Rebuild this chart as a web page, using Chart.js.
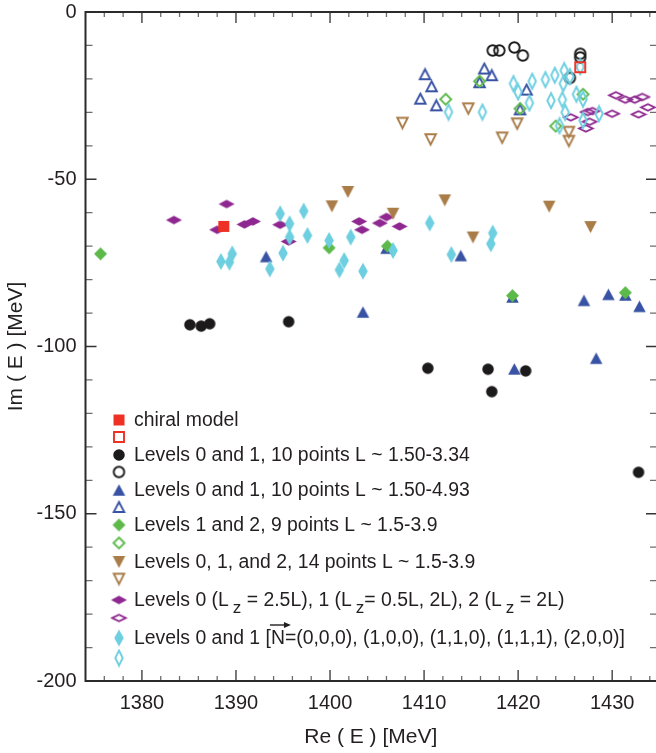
<!DOCTYPE html>
<html>
<head>
<meta charset="utf-8">
<script src="https://cdn.jsdelivr.net/npm/chart.js@4.4.1/dist/chart.umd.min.js"></script>
<style>
  html, body { margin: 0; padding: 0; background: #fff; }
  canvas { display: block; }
</style>
</head>
<body>
<canvas id="chart" width="656" height="753"></canvas>
<script>
// axis ranges and tick labels
const xMin = 1374.0;
const xMax = 1434.66;
const yMin = -200;
const yMax = 0;
const xTicks = [1380, 1390, 1400, 1410, 1420, 1430];
const yTicks = [0, -50, -100, -150, -200];

// [Re(E), Im(E)] in MeV
const chiralFilled = [[1388.7, -64.1]];
const chiralOpen = [[1426.6, -16.5]];

const circleFilled = [
  [1385.1, -93.5], [1386.3, -93.9], [1387.2, -93.2], [1395.6, -92.6],
  [1410.4, -106.5], [1416.8, -106.8], [1417.2, -113.5], [1420.8, -107.3],
  [1432.8, -137.6]
];
const circleOpen = [
  [1417.3, -11.5], [1418.0, -11.5], [1419.6, -10.6], [1420.5, -13.0],
  [1426.6, -12.5], [1426.6, -13.6], [1425.5, -19.7]
];

const triangleFilled = [
  [1393.2, -73.1], [1403.5, -89.7], [1406.0, -70.6], [1413.9, -72.8],
  [1419.4, -85.2], [1419.6, -106.7], [1427.0, -86.2], [1428.3, -103.5],
  [1429.6, -84.4], [1431.4, -84.6], [1432.9, -88.0]
];
const triangleOpen = [
  [1409.6, -25.9], [1410.1, -18.6], [1410.8, -22.2], [1411.3, -27.9],
  [1415.9, -21.0], [1416.4, -16.9], [1417.2, -18.9], [1420.2, -29.1],
  [1420.9, -23.2]
];

const greenFilled = [
  [1375.6, -72.3], [1399.9, -70.5], [1406.1, -70.0], [1419.4, -84.8],
  [1431.4, -83.9]
];
const greenOpen = [
  [1412.3, -26.1], [1415.9, -20.7], [1420.2, -28.9], [1424.0, -34.1],
  [1426.9, -24.6]
];

const brownFilled = [
  [1400.2, -58.1], [1401.9, -53.8], [1406.7, -60.3], [1412.2, -56.3],
  [1415.2, -67.4], [1423.3, -58.2], [1427.7, -64.3]
];
const brownOpen = [
  [1407.7, -33.2], [1410.7, -38.1], [1414.7, -28.9], [1418.3, -37.6],
  [1419.9, -33.4], [1425.4, -35.9], [1425.4, -38.6]
];

const purpleFilled = [
  [1383.4, -62.2], [1388.0, -65.1], [1389.0, -57.4], [1390.9, -63.5],
  [1391.8, -62.6], [1394.7, -63.6], [1395.6, -68.6], [1403.1, -62.6],
  [1403.4, -65.1], [1405.3, -63.1], [1406.0, -61.3], [1407.4, -64.1]
];
const purpleOpen = [
  [1425.6, -31.5], [1427.2, -34.8], [1427.4, -29.9], [1427.6, -32.8],
  [1427.9, -29.6], [1430.0, -30.4], [1430.4, -24.9], [1431.4, -26.2],
  [1432.4, -26.2], [1432.8, -30.6], [1433.2, -25.4], [1433.8, -28.5]
];

const cyanFilled = [
  [1388.4, -74.6], [1389.3, -74.8], [1389.6, -72.3], [1393.6, -76.8],
  [1394.7, -60.3], [1395.0, -72.1], [1395.7, -63.3], [1395.7, -67.3],
  [1397.2, -59.5], [1397.6, -66.8], [1399.9, -68.3], [1401.0, -77.1],
  [1401.5, -74.3], [1402.2, -67.3], [1403.5, -77.5], [1406.7, -71.3],
  [1410.6, -63.1], [1412.9, -72.5], [1417.1, -69.3], [1417.3, -66.1]
];
const cyanOpen = [
  [1412.6, -29.9], [1416.2, -29.9], [1419.5, -21.4], [1420.0, -23.9],
  [1421.2, -27.2], [1421.5, -20.7], [1422.9, -20.2], [1423.5, -26.5],
  [1423.9, -18.9], [1424.4, -34.0], [1424.7, -26.2], [1424.8, -21.4],
  [1424.9, -17.5], [1425.0, -30.0], [1425.5, -19.3], [1426.2, -24.6],
  [1426.6, -16.4], [1426.9, -26.1], [1426.9, -32.4], [1428.6, -30.4]
];

// legend labels, one per series ("_z" = subscript z, "^N" = vector N)
const legendLabels = [
  "chiral model", "",
  "Levels 0 and 1, 10 points L ~ 1.50-3.34", "",
  "Levels 0 and 1, 10 points L ~ 1.50-4.93", "",
  "Levels 1 and 2, 9 points L ~ 1.5-3.9", "",
  "Levels 0, 1, and 2, 14 points L ~ 1.5-3.9", "",
  "Levels 0 (L_z = 2.5L), 1 (L_z= 0.5L, 2L), 2 (L_z = 2L)", "",
  "Levels 0 and 1 [^N=(0,0,0), (1,0,0), (1,1,0), (1,1,1), (2,0,0)]", ""
];

const FONT = "'Liberation Sans', Arial, Helvetica, sans-serif";
const INK = "#231f20";

function makeMarker(shape, w, h, color, filled) {
  const c = document.createElement("canvas");
  c.width = Math.ceil(w) + 4;
  c.height = Math.ceil(h) + 4;
  const g = c.getContext("2d");
  const cx = c.width / 2, cy = c.height / 2, a = w / 2, b = h / 2;
  g.beginPath();
  if (shape === "square") {
    g.rect(cx - a, cy - b, w, h);
  } else if (shape === "circle") {
    g.ellipse(cx, cy, a, b, 0, 0, Math.PI * 2);
  } else if (shape === "up") {
    g.moveTo(cx, cy - b); g.lineTo(cx + a, cy + b); g.lineTo(cx - a, cy + b); g.closePath();
  } else if (shape === "down") {
    g.moveTo(cx - a, cy - b); g.lineTo(cx + a, cy - b); g.lineTo(cx, cy + b); g.closePath();
  } else {
    g.moveTo(cx, cy - b); g.lineTo(cx + a, cy); g.lineTo(cx, cy + b); g.lineTo(cx - a, cy); g.closePath();
  }
  if (filled) {
    g.fillStyle = color;
    g.fill();
  } else {
    g.lineWidth = 1.9;
    g.strokeStyle = color;
    g.stroke();
  }
  return c;
}

const RED = "#ee3124", BLACK = "#1c1a1b", BLUE = "#3953a4", GREEN = "#5cb94a";
const BROWN = "#a97c48", PURPLE = "#8e278f", CYAN = "#6dcfe0";

const series = [
  { data: chiralFilled, img: makeMarker("square", 11, 11, RED, true), order: 0 },
  { data: chiralOpen, img: makeMarker("square", 10, 10, RED, false), order: 0 },
  { data: circleFilled, img: makeMarker("circle", 11.5, 11.5, BLACK, true), order: 6 },
  { data: circleOpen, img: makeMarker("circle", 10.5, 10.5, BLACK, false), order: 6 },
  { data: triangleFilled, img: makeMarker("up", 12.5, 11.5, BLUE, true), order: 5 },
  { data: triangleOpen, img: makeMarker("up", 10.5, 10, BLUE, false), order: 5 },
  { data: greenFilled, img: makeMarker("diamond", 13, 13, GREEN, true), order: 4 },
  { data: greenOpen, img: makeMarker("diamond", 11, 11, GREEN, false), order: 4 },
  { data: brownFilled, img: makeMarker("down", 12.5, 12, BROWN, true), order: 2 },
  { data: brownOpen, img: makeMarker("down", 10.5, 10.5, BROWN, false), order: 2 },
  { data: purpleFilled, img: makeMarker("diamond", 16, 8.5, PURPLE, true), order: 3 },
  { data: purpleOpen, img: makeMarker("diamond", 13.5, 6.5, PURPLE, false), order: 3 },
  { data: cyanFilled, img: makeMarker("diamond", 9.5, 17, CYAN, true), order: 1 },
  { data: cyanOpen, img: makeMarker("diamond", 7.5, 15, CYAN, false), order: 1 }
];

const datasets = series.map((s, i) => ({
  label: legendLabels[i],
  data: s.data.map(p => ({ x: p[0], y: p[1] })),
  pointStyle: s.img,
  pointRadius: 6,
  showLine: false,
  order: s.order
}));

// inward ticks and the box around the plot
const framePlugin = {
  id: "frame",
  beforeDatasetsDraw(chart) {
    const { ctx, chartArea: a, scales } = chart;
    const sx = scales.x, sy = scales.y;
    const right = a.right + 1;
    ctx.save();
    ctx.lineCap = "butt";
    function tickX(v, len, color) {
      const px = sx.getPixelForValue(v);
      ctx.strokeStyle = color;
      ctx.lineWidth = 1.3;
      ctx.beginPath();
      ctx.moveTo(px, a.bottom); ctx.lineTo(px, a.bottom - len);
      ctx.moveTo(px, a.top); ctx.lineTo(px, a.top + len);
      ctx.stroke();
    }
    function tickY(v, len, color) {
      const py = sy.getPixelForValue(v);
      ctx.strokeStyle = color;
      ctx.lineWidth = 1.3;
      ctx.beginPath();
      ctx.moveTo(a.left, py); ctx.lineTo(a.left + len, py);
      ctx.moveTo(right, py); ctx.lineTo(right - len, py);
      ctx.stroke();
    }
    for (let v = 1376; v < xMax; v += 2) {
      if (v % 10 !== 0) tickX(v, 5, "#6d6d6d");
    }
    xTicks.forEach(v => tickX(v, 11, "#333"));
    for (let v = -190; v < 0; v += 10) {
      if (v % 50 !== 0) tickY(v, 7, "#6d6d6d");
    }
    yTicks.forEach(v => tickY(v, 11, "#333"));
    ctx.strokeStyle = "#2b2b2b";
    ctx.lineWidth = 2;
    ctx.beginPath();
    ctx.moveTo(right + 2, a.top);
    ctx.lineTo(a.left, a.top);
    ctx.lineTo(a.left, a.bottom);
    ctx.lineTo(right + 2, a.bottom);
    ctx.stroke();
    ctx.restore();
  }
};

function drawRichText(ctx, text, x, y) {
  const parts = text.split(/(_\w|\^\w)/).filter(t => t.length);
  let cx = x;
  parts.forEach(p => {
    if (p[0] === "_") {
      ctx.font = "17px " + FONT;
      cx += 4;
      ctx.fillText(p.slice(1), cx, y + 7);
      cx += ctx.measureText(p.slice(1)).width;
    } else if (p[0] === "^") {
      ctx.font = "19.4px " + FONT;
      const ch = p.slice(1);
      const w = ctx.measureText(ch).width;
      ctx.fillText(ch, cx, y);
      const ay = y - 14;
      ctx.beginPath();
      ctx.lineWidth = 1.4;
      ctx.moveTo(cx - 1, ay); ctx.lineTo(cx + w + 4, ay);
      ctx.stroke();
      ctx.beginPath();
      ctx.moveTo(cx + w + 6, ay);
      ctx.lineTo(cx + w - 1, ay - 3);
      ctx.lineTo(cx + w - 1, ay + 3);
      ctx.closePath();
      ctx.fill();
      cx += w;
    } else {
      ctx.font = "19.4px " + FONT;
      ctx.fillText(p, cx, y);
      cx += ctx.measureText(p).width;
    }
  });
}

const legendRows = [420, 437, 455, 472, 490, 507, 525, 543, 562, 579, 600, 618, 638, 658];

const legendPlugin = {
  id: "insideLegend",
  afterDraw(chart) {
    const ctx = chart.ctx;
    ctx.save();
    ctx.fillStyle = INK;
    ctx.strokeStyle = INK;
    ctx.textBaseline = "middle";
    ctx.textAlign = "left";
    series.forEach((s, i) => {
      const y = legendRows[i];
      ctx.drawImage(s.img, 119 - s.img.width / 2, y - s.img.height / 2);
      if (legendLabels[i]) drawRichText(ctx, legendLabels[i], 134, y + 1);
    });
    ctx.restore();
  }
};

new Chart(document.getElementById("chart"), {
  type: "scatter",
  data: { datasets },
  options: {
    responsive: false,
    animation: false,
    events: [],
    layout: { autoPadding: false, padding: { top: 12, right: 0, bottom: 0, left: 0 } },
    plugins: { legend: { display: false }, tooltip: { enabled: false } },
    scales: {
      x: {
        type: "linear",
        min: xMin,
        max: xMax,
        grid: { display: false, drawTicks: false },
        border: { display: false },
        afterBuildTicks: s => { s.ticks = xTicks.map(v => ({ value: v })); },
        afterFit: s => { s.height = 72; s.paddingLeft = 0; s.paddingRight = 0; },
        ticks: {
          font: { family: FONT, size: 20 },
          color: INK,
          padding: 10,
          maxRotation: 0,
          autoSkip: false,
          callback: v => String(v)
        },
        title: {
          display: true,
          text: "Re ( E ) [MeV]",
          font: { family: FONT, size: 21 },
          color: INK,
          padding: { top: 0, bottom: 3 }
        }
      },
      y: {
        type: "linear",
        min: yMin,
        max: yMax,
        grid: { display: false, drawTicks: false },
        border: { display: false },
        afterBuildTicks: s => { s.ticks = yTicks.map(v => ({ value: v })); },
        afterFit: s => { s.width = 85.5; s.paddingTop = 0; s.paddingBottom = 0; },
        ticks: {
          font: { family: FONT, size: 20 },
          color: INK,
          padding: 9,
          callback: v => String(v)
        },
        title: {
          display: true,
          text: "Im ( E ) [MeV]",
          font: { family: FONT, size: 21 },
          color: INK,
          padding: { top: 4, bottom: 0 }
        }
      }
    }
  },
  plugins: [framePlugin, legendPlugin]
});
</script>
</body>
</html>
